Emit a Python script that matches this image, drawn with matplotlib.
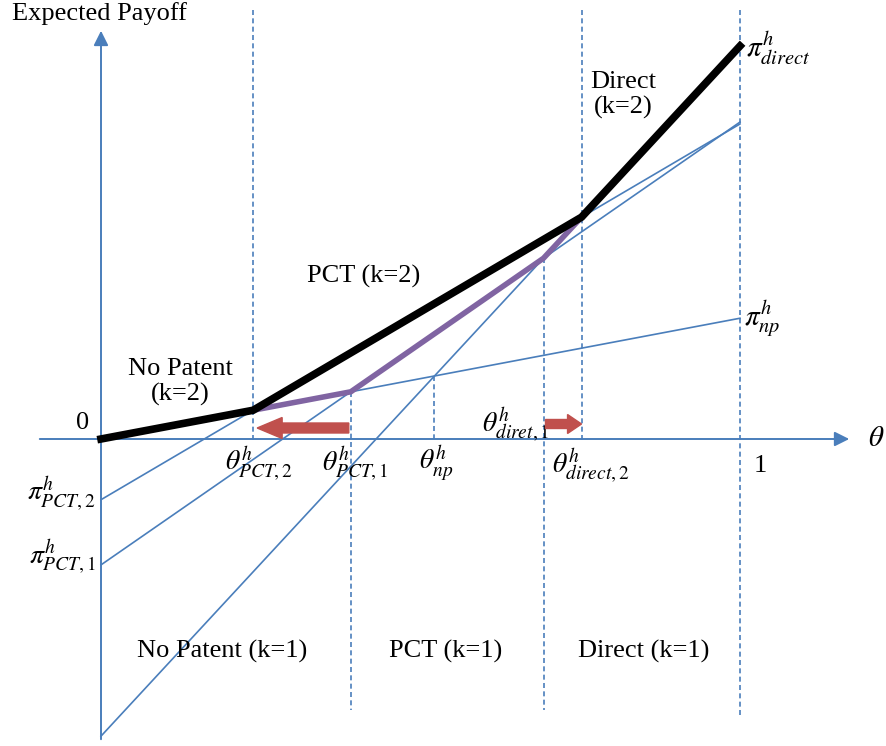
import numpy as np
import matplotlib
matplotlib.use('Agg')
import matplotlib.pyplot as plt
from matplotlib.patches import FancyArrow

OUTPUT_PNG = 'out.png'

# payoff lines: value at theta=0 and at theta=1
line_names = ['np', 'PCT,2', 'PCT,1', 'direct']
intercepts = [0.0, -0.095, -0.197, -0.465]
end_values = [0.189, 0.493, 0.496, 0.615]

region_k2 = ['No Patent\n(k=2)', 'PCT (k=2)', 'Direct\n(k=2)']
region_k1 = ['No Patent (k=1)', 'PCT (k=1)', 'Direct (k=1)']

BLUE = '#4A7EBB'
PURPLE = '#8064A2'
RED = '#C0504D'

plt.rcParams['font.family'] = 'Liberation Serif'
plt.rcParams['mathtext.fontset'] = 'stix'


def payoff(i, t):
    slope = end_values[i] - intercepts[i]
    return intercepts[i] + slope * np.asarray(t)


def cross(i, j):
    si = end_values[i] - intercepts[i]
    sj = end_values[j] - intercepts[j]
    t = (intercepts[j] - intercepts[i]) / (si - sj)
    return t, payoff(i, t)


# figure in pixel-matched data units (639 px per unit on both axes)
S = 639.0
fig = plt.figure(figsize=(8.86, 7.46), dpi=100)
ax = fig.add_axes([0, 0, 1, 1])
ax.set_xlim(-101 / S, (886 - 101) / S)
ax.set_ylim((439 - 746) / S, 439 / S)
ax.axis('off')

NP, P2, P1, DR = 0, 1, 2, 3
t_pct2, v_pct2 = cross(NP, P2)
t_pct1, v_pct1 = cross(NP, P1)
t_np, v_np = cross(NP, DR)
t_dir1, v_dir1 = cross(P1, DR)
t_dir2, v_dir2 = cross(P2, DR)

top = 429 / S
low1 = (439 - 710) / S
low2 = (439 - 716) / S

# ------------------------------
# axes with arrows
# ------------------------------
ax.annotate('', xy=(0, 411 / S), xytext=(0, (439 - 742) / S),
            arrowprops=dict(arrowstyle='-|>', color=BLUE, lw=1.4, mutation_scale=22))
ax.annotate('', xy=(751 / S, 0), xytext=(-64 / S, 0),
            arrowprops=dict(arrowstyle='-|>', color=BLUE, lw=1.4, mutation_scale=22))

# dashed verticals
dash = dict(color=BLUE, lw=1.2, linestyle=(0, (3, 2)))
ax.plot([t_pct2, t_pct2], [top, -2 / S], **dash)
ax.plot([t_pct1, t_pct1], [v_pct1, low1], **dash)
ax.plot([t_np, t_np], [v_np, 0], **dash)
ax.plot([t_dir1, t_dir1], [v_dir1, low1], **dash)
ax.plot([t_dir2, t_dir2], [top, -2 / S], **dash)
ax.plot([1, 1], [top, low2], **dash)

# thin payoff lines
for i in range(4):
    ax.plot([0, 1], [intercepts[i], end_values[i]], color=BLUE, lw=1.2)

# k=1 envelope (purple)
px = [t_pct2, t_pct1, t_dir1, t_dir2]
py = [v_pct2, v_pct1, v_dir1, v_dir2]
ax.plot(px, py, color=PURPLE, lw=4, solid_capstyle='butt', zorder=4)

# k=2 envelope (black)
bx = [0, t_pct2, t_dir2, 1]
by = [0, v_pct2, v_dir2, end_values[DR]]
ax.plot(bx, by, color='black', lw=5.5, solid_joinstyle='miter', zorder=5)

# red shift arrows
y_arr = 11 / S
ax.add_patch(FancyArrow(t_pct1 - 2 / S, y_arr, -(t_pct1 - t_pct2) + 6 / S, 0,
                        width=10 / S, head_width=21 / S, head_length=25 / S,
                        length_includes_head=True, color=RED, zorder=6))
ax.add_patch(FancyArrow(t_dir1 + 2 / S, 15 / S, (t_dir2 - t_dir1) - 2 / S, 0,
                        width=9 / S, head_width=19 / S, head_length=14 / S,
                        length_includes_head=True, color=RED, zorder=6))

# ------------------------------
# text
# ------------------------------
fs = 19
ax.text(-89 / S, 425 / S, 'Expected Payoff', fontsize=fs, ha='left', va='center')
ax.text(-18 / S, 16 / S, '0', fontsize=fs, ha='center', va='center')
ax.text(659 / S, -27 / S, '1', fontsize=fs, ha='center', va='center')
ax.text(775 / S, 0, r'$\theta$', fontsize=21, ha='center', va='center')

ax.text(79 / S, 57 / S, region_k2[0], fontsize=fs, ha='center', va='center',
        linespacing=1.15)
ax.text(263 / S, 163 / S, region_k2[1], fontsize=fs, ha='center', va='center')
ax.text(522 / S, 344 / S, region_k2[2], fontsize=fs, ha='center', va='center',
        linespacing=1.15)

k1_x = [121, 345, 543]
for lab, x in zip(region_k1, k1_x):
    ax.text(x / S, -212 / S, lab, fontsize=fs, ha='center', va='center')

mfs = 20
ax.text(1 + 6 / S, end_values[DR] - 2 / S, r'$\pi^{h}_{direct}$', fontsize=mfs + 1,
        ha='left', va='center')
ax.text(1 + 4 / S, end_values[NP], r'$\pi^{h}_{np}$', fontsize=mfs + 1,
        ha='left', va='center')
ax.text(-5 / S, intercepts[P2] + 6 / S, r'$\pi^{h}_{PCT,2}$', fontsize=mfs,
        ha='right', va='center')
ax.text(-5 / S, intercepts[P1] + 8 / S, r'$\pi^{h}_{PCT,1}$', fontsize=mfs,
        ha='right', va='center')

ax.text(t_pct2 + 6 / S, -25 / S, r'$\theta^{h}_{PCT,2}$', fontsize=mfs, ha='center', va='center')
ax.text(t_pct1 + 4 / S, -25 / S, r'$\theta^{h}_{PCT,1}$', fontsize=mfs, ha='center', va='center')
ax.text(t_np + 2 / S, -25 / S, r'$\theta^{h}_{np}$', fontsize=mfs, ha='center', va='center')
ax.text(t_dir2 - 30 / S, -27 / S, r'$\theta^{h}_{direct,2}$', fontsize=mfs,
        ha='left', va='center')
ax.text(t_dir1 - 28 / S, 14 / S, r'$\theta^{h}_{diret,1}$', fontsize=mfs,
        ha='center', va='center')

plt.savefig(OUTPUT_PNG, dpi=100)
